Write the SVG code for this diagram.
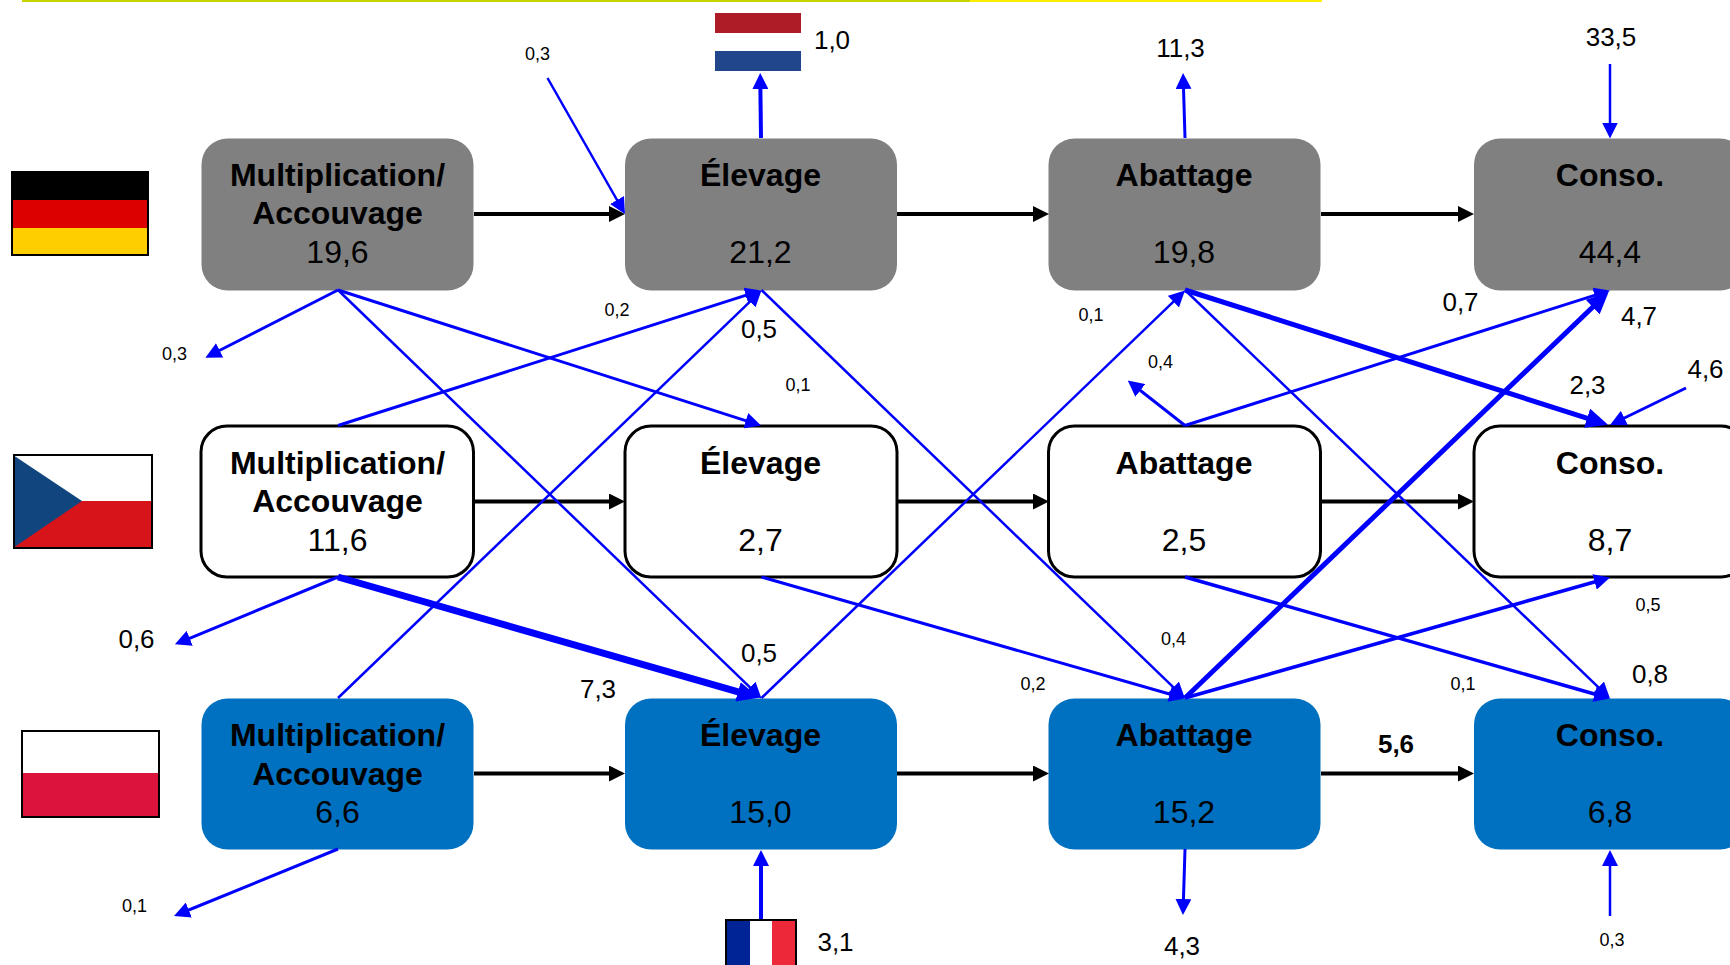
<svg xmlns="http://www.w3.org/2000/svg" width="1730" height="965" viewBox="0 0 1730 965">
<style>
text{font-family:"Liberation Sans",Arial,sans-serif;fill:#000;text-anchor:middle}
.t{font-size:32px;font-weight:bold}
.v{font-size:32px}
.m{font-size:26px}
.s{font-size:18px}
.b{font-size:26px;font-weight:bold}
.gr{fill:#808080}
.wh{fill:#fff;stroke:#000;stroke-width:3}
.bl{fill:#0070c0}
.k{stroke:#000;stroke-width:4;fill:none;marker-end:url(#ak)}
.f{stroke:#0000ff;fill:none;marker-end:url(#ab)}
.h{stroke:#0000ff;fill:none;marker-end:url(#at)}
.fl{stroke:#000;stroke-width:2;fill:none}
</style>
<defs>
<marker id="ak" markerUnits="userSpaceOnUse" markerWidth="16" markerHeight="16" refX="4" refY="8" orient="auto"><path d="M0 0L16 8L0 16Z" fill="#000"/></marker>
<marker id="ab" markerUnits="userSpaceOnUse" markerWidth="16" markerHeight="16" refX="8" refY="8" orient="auto"><path d="M0 0L16 8L0 16Z" fill="#0000ff"/></marker>
<marker id="at" markerUnits="userSpaceOnUse" markerWidth="22" markerHeight="20" refX="12" refY="10" orient="auto"><path d="M0 0L22 10L0 20Z" fill="#0000ff"/></marker>
</defs>
<g id="top-rule">
<rect x="22" y="0" width="948" height="2" fill="#c8d400"/>
<rect x="970" y="0" width="352" height="2" fill="#ffed00"/>
</g>
<g id="flag-de"><rect x="11" y="172" width="138" height="28" fill="#000"/><rect x="11" y="200" width="138" height="28" fill="#dd0000"/><rect x="11" y="228" width="138" height="28" fill="#ffce00"/><rect class="fl" x="12" y="172" width="136" height="83"/></g>
<g id="flag-cz"><rect x="13" y="455" width="140" height="46" fill="#fff"/><rect x="13" y="501" width="140" height="47" fill="#d7141a"/><path d="M13 455L82 501L13 548Z" fill="#11457e"/><rect class="fl" x="14" y="455" width="138" height="93"/></g>
<g id="flag-pl"><rect x="22" y="730" width="138" height="43" fill="#fff"/><rect x="22" y="773" width="138" height="44" fill="#dc143c"/><rect class="fl" x="22" y="731" width="137" height="86"/></g>
<g id="flag-nl"><rect x="715" y="13" width="86" height="20" fill="#ae1c28"/><rect x="715" y="51" width="86" height="20" fill="#21468b"/></g>
<g id="flag-fr"><rect x="726" y="919" width="24" height="50" fill="#002395"/><rect x="750" y="919" width="22" height="50" fill="#fff"/><rect x="772" y="919" width="24" height="50" fill="#ed2939"/><rect class="fl" x="726" y="920" width="70" height="50"/></g>

<g id="n-de-mult"><rect class="gr" x="201.500" y="138.500" width="272" height="152" rx="26"/><text class="t" x="337.500" y="186">Multiplication/</text><text class="t" x="337.500" y="224">Accouvage</text><text class="v" x="337.500" y="263">19,6</text></g>
<g id="n-de-elev"><rect class="gr" x="625" y="138.500" width="272" height="152" rx="26"/><text class="t" x="760.500" y="186">Élevage</text><text class="v" x="760.500" y="263">21,2</text></g>
<g id="n-de-abat"><rect class="gr" x="1048.500" y="138.500" width="272" height="152" rx="26"/><text class="t" x="1184" y="186">Abattage</text><text class="v" x="1184" y="263">19,8</text></g>
<g id="n-de-cons"><rect class="gr" x="1474" y="138.500" width="272" height="152" rx="26"/><text class="t" x="1610" y="186">Conso.</text><text class="v" x="1610" y="263">44,4</text></g>

<g id="n-cz-mult"><rect class="wh" x="201" y="426" width="272.500" height="151" rx="26"/><text class="t" x="337.500" y="474">Multiplication/</text><text class="t" x="337.500" y="512">Accouvage</text><text class="v" x="337.500" y="551">11,6</text></g>
<g id="n-cz-elev"><rect class="wh" x="625" y="426" width="272" height="151" rx="26"/><text class="t" x="760.500" y="474">Élevage</text><text class="v" x="760.500" y="551">2,7</text></g>
<g id="n-cz-abat"><rect class="wh" x="1048.500" y="426" width="272" height="151" rx="26"/><text class="t" x="1184" y="474">Abattage</text><text class="v" x="1184" y="551">2,5</text></g>
<g id="n-cz-cons"><rect class="wh" x="1474" y="426" width="273" height="151" rx="26"/><text class="t" x="1610" y="474">Conso.</text><text class="v" x="1610" y="551">8,7</text></g>

<g id="n-pl-mult"><rect class="bl" x="201.500" y="698.500" width="272" height="151" rx="26"/><text class="t" x="337.500" y="746">Multiplication/</text><text class="t" x="337.500" y="785">Accouvage</text><text class="v" x="337.500" y="823">6,6</text></g>
<g id="n-pl-elev"><rect class="bl" x="625" y="698.500" width="272" height="151" rx="26"/><text class="t" x="760.500" y="746">Élevage</text><text class="v" x="760.500" y="823">15,0</text></g>
<g id="n-pl-abat"><rect class="bl" x="1048.500" y="698.500" width="272" height="151" rx="26"/><text class="t" x="1184" y="746">Abattage</text><text class="v" x="1184" y="823">15,2</text></g>
<g id="n-pl-cons"><rect class="bl" x="1474" y="698.500" width="272" height="151" rx="26"/><text class="t" x="1610" y="746">Conso.</text><text class="v" x="1610" y="823">6,8</text></g>

<g id="connectors">
<line class="k" x1="474" y1="214" x2="613" y2="214"/>
<line class="k" x1="897" y1="214" x2="1037" y2="214"/>
<line class="k" x1="1321" y1="214" x2="1462" y2="214"/>
<line class="k" x1="474" y1="501.500" x2="613" y2="501.500"/>
<line class="k" x1="897" y1="501.500" x2="1037" y2="501.500"/>
<line class="k" x1="1321" y1="501.500" x2="1462" y2="501.500"/>
<line class="k" x1="474" y1="773.500" x2="613" y2="773.500"/>
<line class="k" x1="897" y1="773.500" x2="1037" y2="773.500"/>
<line class="k" x1="1321" y1="773.500" x2="1462" y2="773.500"/>

<line class="f" stroke-width="2.500" x1="547.500" y1="78" x2="621" y2="207"/>
<line class="f" stroke-width="4" x1="761" y1="138" x2="760.300" y2="81"/>
<line class="f" stroke-width="3" x1="1185" y1="138" x2="1183.300" y2="81"/>
<line class="f" stroke-width="2.500" x1="1610" y1="64" x2="1610" y2="130.500"/>
<line class="f" stroke-width="3" x1="338" y1="290" x2="212.500" y2="354"/>
<line class="f" stroke-width="2.500" x1="338" y1="290" x2="755.700" y2="692.900"/>
<line class="f" stroke-width="3" x1="338" y1="290" x2="753.400" y2="423.100"/>
<line class="f" stroke-width="3" x1="338" y1="425.500" x2="753.400" y2="292.900"/>
<line class="f" stroke-width="2.500" x1="338" y1="698" x2="755.700" y2="296.100"/>
<line class="f" stroke-width="2.500" x1="761.500" y1="290" x2="1179.200" y2="692.900"/>
<line class="f" stroke-width="3" x1="761.500" y1="577" x2="1177.300" y2="696.300"/>
<line class="f" stroke-width="2.500" x1="761.500" y1="698" x2="1179.200" y2="296.100"/>
<line class="h" stroke-width="5" x1="1185" y1="290" x2="1598.500" y2="421.800"/>
<line class="f" stroke-width="2.500" x1="1185" y1="290" x2="1604.200" y2="692.900"/>
<line class="f" stroke-width="3" x1="1185" y1="425.500" x2="1602.300" y2="292.900"/>
<line class="f" stroke-width="3" x1="1185" y1="425.500" x2="1134" y2="385.500"/>
<line class="h" stroke-width="5" x1="1185" y1="698" x2="1601.400" y2="298.800"/>
<line class="f" stroke-width="3.500" x1="1185" y1="698" x2="1602.300" y2="579.700"/>
<line class="f" stroke-width="3.500" x1="1185" y1="577" x2="1602.300" y2="696.300"/>
<line class="h" stroke-width="7" x1="338" y1="577" x2="749.500" y2="695.100"/>
<line class="f" stroke-width="3" x1="338" y1="577" x2="182.300" y2="641.300"/>
<line class="f" stroke-width="3" x1="338" y1="849" x2="181.400" y2="913"/>
<line class="f" stroke-width="4" x1="761" y1="919" x2="761" y2="858"/>
<line class="f" stroke-width="3" x1="1185" y1="849" x2="1183.200" y2="907"/>
<line class="f" stroke-width="2.500" x1="1610" y1="916" x2="1610" y2="858"/>
<line class="f" stroke-width="3" x1="1686" y1="388" x2="1617.200" y2="421.500"/>
</g>

<g id="labels">
<text class="s" x="537.500" y="60">0,3</text>
<text class="m" x="832" y="49">1,0</text>
<text class="m" x="1180.500" y="57">11,3</text>
<text class="m" x="1611" y="46">33,5</text>
<text class="s" x="174.500" y="359.500">0,3</text>
<text class="s" x="617" y="315.500">0,2</text>
<text class="m" x="759" y="337.500">0,5</text>
<text class="s" x="798" y="391">0,1</text>
<text class="s" x="1091" y="321">0,1</text>
<text class="s" x="1160.500" y="367.500">0,4</text>
<text class="m" x="1460.500" y="311">0,7</text>
<text class="m" x="1639" y="325">4,7</text>
<text class="m" x="1587.500" y="394">2,3</text>
<text class="m" x="1705.500" y="378">4,6</text>
<text class="m" x="136.500" y="648">0,6</text>
<text class="m" x="759" y="662">0,5</text>
<text class="m" x="598" y="698">7,3</text>
<text class="s" x="134.500" y="912">0,1</text>
<text class="m" x="835.500" y="951">3,1</text>
<text class="s" x="1173.500" y="645">0,4</text>
<text class="s" x="1033" y="689.500">0,2</text>
<text class="s" x="1463" y="689.500">0,1</text>
<text class="s" x="1648" y="611">0,5</text>
<text class="m" x="1650" y="683">0,8</text>
<text class="b" x="1396" y="753">5,6</text>
<text class="m" x="1182" y="955">4,3</text>
<text class="s" x="1612" y="946">0,3</text>
</g>
</svg>
